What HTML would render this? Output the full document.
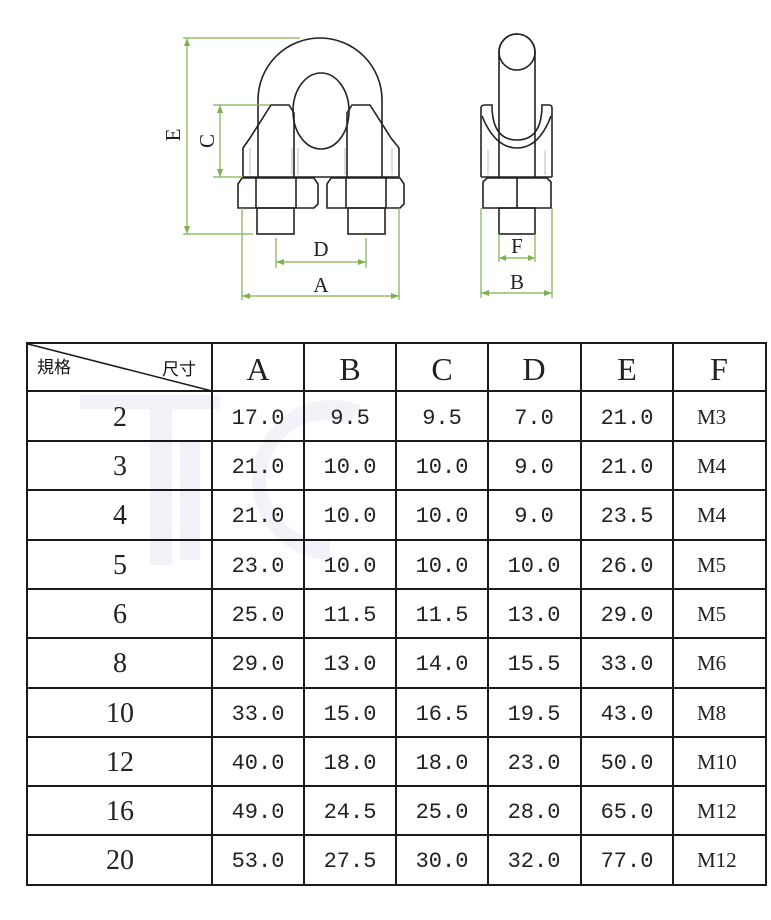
<!DOCTYPE html>
<html><head><meta charset="utf-8"><style>
html,body{margin:0;padding:0;background:#fff;}
svg{display:block;}
.n{font-family:"Liberation Mono",monospace;font-size:22px;fill:#222;text-anchor:middle;}
.h{font-family:"Liberation Serif",serif;font-size:32px;fill:#222;text-anchor:middle;}
.r{font-family:"Liberation Serif",serif;font-size:28px;fill:#222;text-anchor:middle;}
.m{font-family:"Liberation Serif",serif;font-size:21px;fill:#222;}
.dl{font-family:"Liberation Serif",serif;font-size:21px;fill:#222;text-anchor:middle;}
</style></head><body>
<svg width="771" height="920" viewBox="0 0 771 920" xmlns="http://www.w3.org/2000/svg">
<!-- watermark -->
<g opacity="0.06" fill="#1a3a8a">
<rect x="80" y="395" width="140" height="14"/>
<rect x="150" y="395" width="22" height="170"/>
<rect x="180" y="440" width="20" height="120"/>
<path d="M360 405 A80 80 0 1 0 330 560 L330 540 A60 60 0 1 1 350 425 Z"/>
</g>
<!-- drawing -->
<g fill="none" stroke="#222" stroke-width="1.6">
<path d="M258 177 L258 100 A62 62 0 0 1 382 100 L382 177"/>
<ellipse cx="321" cy="111" rx="28" ry="38"/>
<path d="M243 177 L243 148 L250 138 L271 105 L289 105 L294 113 L294 177"/>
<path d="M347 177 L347 113 L352 105 L370 105 L391 138 L399 148 L399 177"/>
<path d="M243 177 L399 177"/>
<path d="M238 208 L238 184 L242 178 L314 178 L318 184 L318 204 L314 208 Z"/>
<path d="M327 208 L327 184 L331 178 L400 178 L404 184 L404 204 L400 208 Z"/>
<path d="M256 178 L256 208 M296 178 L296 208 M346 178 L346 208 M386 178 L386 208"/>
<rect x="257" y="208" width="37" height="26"/>
<rect x="348" y="208" width="37" height="26"/>
<!-- side view -->
<path d="M499 177 L499 52 A18 18 0 0 1 535 52 L535 177"/>
<circle cx="517" cy="52" r="18"/>
<path d="M481 177 L481 108 Q481 105 485 105 L492 105 Q492 140 517 140 Q542 140 542 105 L549 105 Q552 105 552 108 L552 177"/>
<path d="M482 116 Q495 148 517 148 Q539 148 551 116"/>
<path d="M481 177 L552 177"/>
<path d="M483 208 L483 182 L487 178 L547 178 L551 182 L551 208 Z"/>
<path d="M517 178 L517 208"/>
<rect x="499" y="208" width="36" height="26"/>
</g>
<g stroke="#bbb" stroke-width="1" fill="none">
<path d="M250 148 L250 175 M292 148 L292 175 M298 148 L298 175 M345 148 L345 175 M392 148 L392 175 M488 150 L488 175 M545 150 L545 175"/>
</g>
<!-- dimensions -->
<g stroke="#7fb050" stroke-width="1.2" fill="none">
<path d="M183 38 L300 38 M187 38 L187 234 M183 234 L253 234"/>
<path d="M213 105 L270 105 M220 105 L220 177 M213 177 L243 177"/>
<path d="M276 238 L276 268 M366 238 L366 268 M276 262 L366 262"/>
<path d="M242 208 L242 300 M399 208 L399 300 M242 296 L399 296"/>
<path d="M499 234 L499 262 M535 234 L535 262 M499 258 L535 258"/>
<path d="M481 208 L481 298 M552 208 L552 298 M481 293 L552 293"/>
</g>
<g fill="#7fb050">
<path d="M187 38 l-3 8 h6z M187 234 l-3 -8 h6z M220 105 l-3 8 h6z M220 177 l-3 -8 h6z"/>
<path d="M276 262 l8 -3 v6z M366 262 l-8 -3 v6z M242 296 l8 -3 v6z M399 296 l-8 -3 v6z"/>
<path d="M499 258 l7 -3 v6z M535 258 l-7 -3 v6z M481 293 l8 -3 v6z M552 293 l-8 -3 v6z"/>
</g>
<text class="dl" x="321" y="256">D</text>
<text class="dl" x="321" y="292">A</text>
<text class="dl" x="517" y="253">F</text>
<text class="dl" x="517" y="289">B</text>
<text class="dl" transform="translate(180,135) rotate(-90)">E</text>
<text class="dl" transform="translate(214,141) rotate(-90)">C</text>
<!-- table -->
<g stroke="#1a1a1a" stroke-width="2" fill="none">
<rect x="27" y="343" width="739" height="542"/>
<path d="M212 343 V885 M304 343 V885 M396 343 V885 M488 343 V885 M581 343 V885 M673 343 V885"/>
<path d="M27 391 H766 M27 441 H766 M27 490 H766 M27 540 H766 M27 589 H766 M27 638 H766 M27 688 H766 M27 737 H766 M27 786 H766 M27 835 H766"/>
<path d="M28 344 L212 391" stroke-width="1.5"/>
</g>
<text x="37" y="373" style="font-family:'Liberation Sans','Noto Sans CJK SC',sans-serif;font-size:17px;fill:#111">規格</text>
<text x="162" y="375" style="font-family:'Liberation Sans','Noto Sans CJK SC',sans-serif;font-size:17px;fill:#111">尺寸</text>
<g class="h">
<text class="h" x="258" y="380">A</text><text class="h" x="350" y="380">B</text><text class="h" x="442" y="380">C</text>
<text class="h" x="534" y="380">D</text><text class="h" x="627" y="380">E</text><text class="h" x="719" y="380">F</text>
</g>
<g>
<text class="r" x="120" y="426">2</text><text class="n" x="258" y="424">17.0</text><text class="n" x="350" y="424">9.5</text><text class="n" x="442" y="424">9.5</text><text class="n" x="534" y="424">7.0</text><text class="n" x="627" y="424">21.0</text><text class="m" x="697" y="424">M3</text>
<text class="r" x="120" y="475">3</text><text class="n" x="258" y="473">21.0</text><text class="n" x="350" y="473">10.0</text><text class="n" x="442" y="473">10.0</text><text class="n" x="534" y="473">9.0</text><text class="n" x="627" y="473">21.0</text><text class="m" x="697" y="473">M4</text>
<text class="r" x="120" y="524">4</text><text class="n" x="258" y="522">21.0</text><text class="n" x="350" y="522">10.0</text><text class="n" x="442" y="522">10.0</text><text class="n" x="534" y="522">9.0</text><text class="n" x="627" y="522">23.5</text><text class="m" x="697" y="522">M4</text>
<text class="r" x="120" y="574">5</text><text class="n" x="258" y="572">23.0</text><text class="n" x="350" y="572">10.0</text><text class="n" x="442" y="572">10.0</text><text class="n" x="534" y="572">10.0</text><text class="n" x="627" y="572">26.0</text><text class="m" x="697" y="572">M5</text>
<text class="r" x="120" y="623">6</text><text class="n" x="258" y="621">25.0</text><text class="n" x="350" y="621">11.5</text><text class="n" x="442" y="621">11.5</text><text class="n" x="534" y="621">13.0</text><text class="n" x="627" y="621">29.0</text><text class="m" x="697" y="621">M5</text>
<text class="r" x="120" y="672">8</text><text class="n" x="258" y="670">29.0</text><text class="n" x="350" y="670">13.0</text><text class="n" x="442" y="670">14.0</text><text class="n" x="534" y="670">15.5</text><text class="n" x="627" y="670">33.0</text><text class="m" x="697" y="670">M6</text>
<text class="r" x="120" y="722">10</text><text class="n" x="258" y="720">33.0</text><text class="n" x="350" y="720">15.0</text><text class="n" x="442" y="720">16.5</text><text class="n" x="534" y="720">19.5</text><text class="n" x="627" y="720">43.0</text><text class="m" x="697" y="720">M8</text>
<text class="r" x="120" y="771">12</text><text class="n" x="258" y="769">40.0</text><text class="n" x="350" y="769">18.0</text><text class="n" x="442" y="769">18.0</text><text class="n" x="534" y="769">23.0</text><text class="n" x="627" y="769">50.0</text><text class="m" x="697" y="769">M10</text>
<text class="r" x="120" y="820">16</text><text class="n" x="258" y="818">49.0</text><text class="n" x="350" y="818">24.5</text><text class="n" x="442" y="818">25.0</text><text class="n" x="534" y="818">28.0</text><text class="n" x="627" y="818">65.0</text><text class="m" x="697" y="818">M12</text>
<text class="r" x="120" y="869">20</text><text class="n" x="258" y="867">53.0</text><text class="n" x="350" y="867">27.5</text><text class="n" x="442" y="867">30.0</text><text class="n" x="534" y="867">32.0</text><text class="n" x="627" y="867">77.0</text><text class="m" x="697" y="867">M12</text>
</g>
</svg>
</body></html>
